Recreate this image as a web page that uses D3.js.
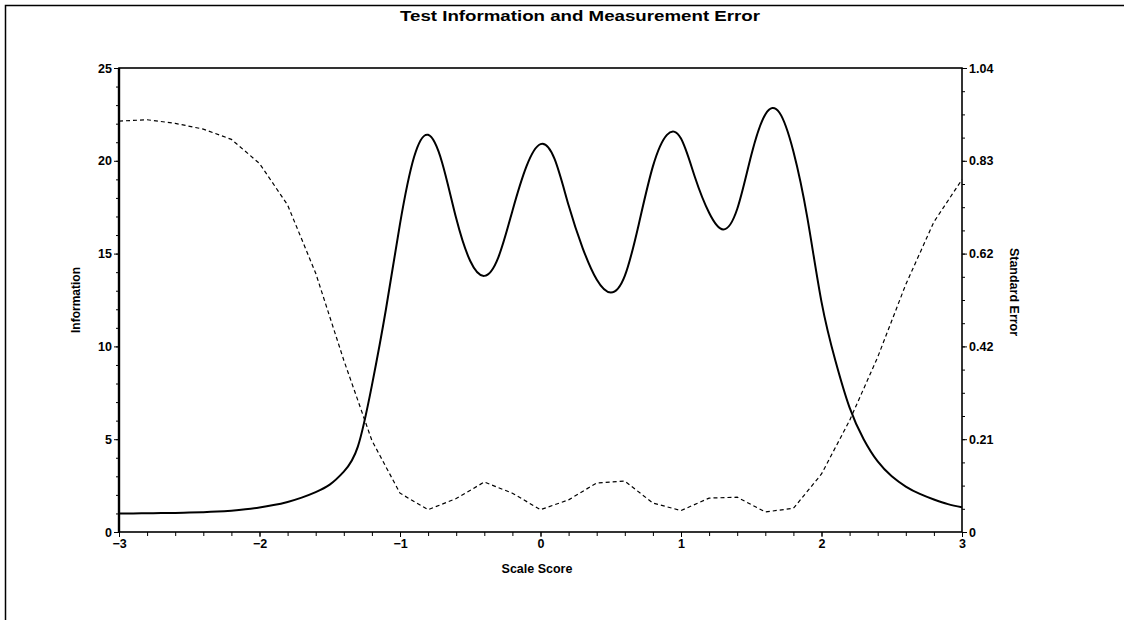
<!DOCTYPE html>
<html>
<head>
<meta charset="utf-8">
<script src="https://cdn.jsdelivr.net/npm/d3@7"></script>
<style>
body { margin: 0; background: #fff; }
svg text { font-family: "Liberation Sans", Arial, sans-serif; font-weight: bold; fill: #000; }
.axis path, .axis line { stroke: #000; }
</style>
</head>
<body>
<script>
//data
var infoScores = [-3.0, -2.9, -2.8, -2.7, -2.6, -2.5, -2.4, -2.3, -2.2, -2.1,
    -2.0, -1.9, -1.8, -1.7, -1.6, -1.5, -1.4, -1.3, -1.2, -1.1,
    -1.0, -0.9, -0.8, -0.7, -0.6, -0.5, -0.4, -0.3, -0.2, -0.1,
    0.0, 0.1, 0.2, 0.3, 0.4, 0.5, 0.6, 0.7, 0.8, 0.9,
    1.0, 1.1, 1.2, 1.3, 1.4, 1.5, 1.6, 1.7, 1.8, 1.9,
    2.0, 2.1, 2.2, 2.3, 2.4, 2.5, 2.6, 2.7, 2.8, 2.9, 3.0];
var information = [1.00, 1.00, 1.01, 1.02, 1.03, 1.05, 1.07, 1.10, 1.15, 1.22,
    1.32, 1.45, 1.62, 1.85, 2.15, 2.55, 3.25, 4.6, 7.9, 12.0,
    16.6, 20.2, 21.4, 19.9, 16.9, 14.6, 13.8, 14.8, 17.3, 19.7,
    20.9, 20.1, 17.6, 15.3, 13.6, 12.9, 13.8, 16.6, 19.7, 21.4,
    21.2, 19.1, 17.2, 16.3, 17.4, 20.3, 22.5, 22.6, 20.5, 16.9,
    12.4, 9.2, 6.7, 5.0, 3.8, 3.0, 2.45, 2.05, 1.75, 1.5, 1.33];

var seScores = [-3.0, -2.8, -2.6, -2.4, -2.2, -2.0, -1.8, -1.6, -1.4, -1.2,
    -1.0, -0.8, -0.6, -0.4, -0.2, 0.0, 0.2, 0.4, 0.6, 0.8,
    1.0, 1.2, 1.4, 1.6, 1.8, 2.0, 2.2, 2.4, 2.6, 2.8, 3.0];
var standardError = [0.921, 0.924, 0.916, 0.903, 0.880, 0.826, 0.733, 0.580, 0.385, 0.205,
    0.087, 0.050, 0.075, 0.112, 0.087, 0.050, 0.072, 0.110, 0.114, 0.065,
    0.048, 0.076, 0.078, 0.045, 0.053, 0.130, 0.250, 0.392, 0.555, 0.695, 0.790];

var xTicks = [-3, -2, -1, 0, 1, 2, 3];
var infoTicks = [0, 5, 10, 15, 20, 25];
var seTicks = [0, 0.208, 0.416, 0.624, 0.832, 1.04];
var titleText = "Test Information and Measurement Error";

(function(){

var width = 1124,
    height = 620;
var margin = {top: 68, right: 162, bottom: 88, left: 119};

var svg = d3.select("body")
    .append("svg")
    .attr("width", width)
    .attr("height", height);

//outer frame, only top and left edges show
svg.append("path")
    .attr("d", "M5.5," + height + "V5.5H" + width)
    .attr("fill", "none")
    .attr("stroke", "#000")
    .attr("stroke-width", 1.5);

//title is stretched a little, the scan's font is wider
svg.append("text")
    .attr("x", 580)
    .attr("y", 21)
    .attr("text-anchor", "middle")
    .attr("textLength", 360)
    .attr("lengthAdjust", "spacingAndGlyphs")
    .style("font-size", "15.5px")
    .text(titleText);

var x = d3.scaleLinear()
    .domain([-3, 3])
    .range([margin.left, width - margin.right]);
var yInfo = d3.scaleLinear()
    .domain([0, 25])
    .range([height - margin.bottom, margin.top]);
var ySE = d3.scaleLinear()
    .domain([0, 1.04])
    .range([height - margin.bottom, margin.top]);

var x0 = x.range()[0], x1 = x.range()[1],
    y0 = yInfo.range()[0], y1 = yInfo.range()[1];

function boldLabels(g){
    g.select(".domain").remove();
    g.selectAll("text").style("font-size", "12.5px");
}

//minor ticks first, then major ticks with labels
svg.append("g")
    .attr("class", "axis")
    .attr("transform", "translate(0," + y0 + ")")
    .call(d3.axisBottom(x).tickValues(d3.range(-3, 3.01, 0.2)).tickSize(4).tickFormat(""))
    .call(function(g){ g.select(".domain").remove(); });
svg.append("g")
    .attr("class", "axis")
    .attr("transform", "translate(0," + y0 + ")")
    .call(d3.axisBottom(x).tickValues(xTicks).tickSize(5).tickPadding(2).tickFormat(d3.format("d")))
    .call(boldLabels);

svg.append("g")
    .attr("class", "axis")
    .attr("transform", "translate(" + x0 + ",0)")
    .call(d3.axisLeft(yInfo).tickValues(d3.range(0, 25.5, 1)).tickSize(3).tickFormat(""))
    .call(function(g){ g.select(".domain").remove(); });
svg.append("g")
    .attr("class", "axis")
    .attr("transform", "translate(" + x0 + ",0)")
    .call(d3.axisLeft(yInfo).tickValues(infoTicks).tickSize(5).tickPadding(2))
    .call(boldLabels);

svg.append("g")
    .attr("class", "axis")
    .attr("transform", "translate(" + x1 + ",0)")
    .call(d3.axisRight(ySE).tickValues(d3.range(0, 1.05, 0.052)).tickSize(3).tickFormat(""))
    .call(function(g){ g.select(".domain").remove(); });
svg.append("g")
    .attr("class", "axis")
    .attr("transform", "translate(" + x1 + ",0)")
    .call(d3.axisRight(ySE).tickValues(seTicks).tickSize(5).tickPadding(2)
        .tickFormat(function(d){ return d === 0 ? "0" : d3.format(".2f")(d); }))
    .call(boldLabels);

//plot box
svg.append("rect")
    .attr("x", x0)
    .attr("y", y1)
    .attr("width", x1 - x0)
    .attr("height", y0 - y1)
    .attr("fill", "none")
    .attr("stroke", "#000")
    .attr("stroke-width", 1.6);
svg.append("line")
    .attr("x1", x0).attr("x2", x0)
    .attr("y1", y1).attr("y2", y0)
    .attr("stroke", "#000")
    .attr("stroke-width", 2.4);

//axis titles
svg.append("text")
    .attr("transform", "translate(80," + ((y0 + y1) / 2) + ") rotate(-90)")
    .attr("text-anchor", "middle")
    .style("font-size", "12px")
    .text("Information");
svg.append("text")
    .attr("transform", "translate(1010,292) rotate(90)")
    .attr("text-anchor", "middle")
    .style("font-size", "12.5px")
    .text("Standard Error");
svg.append("text")
    .attr("x", 537)
    .attr("y", 573)
    .attr("text-anchor", "middle")
    .style("font-size", "12.5px")
    .text("Scale Score");

//information curve (solid)
var infoLine = d3.line()
    .x(function(d, i){ return x(infoScores[i]); })
    .y(function(d){ return yInfo(d); })
    .curve(d3.curveNatural);
svg.append("path")
    .datum(information)
    .attr("d", infoLine)
    .attr("fill", "none")
    .attr("stroke", "#000")
    .attr("stroke-width", 2);

//standard error curve (dashed)
var seLine = d3.line()
    .x(function(d, i){ return x(seScores[i]); })
    .y(function(d){ return ySE(d); });
svg.append("path")
    .datum(standardError)
    .attr("d", seLine)
    .attr("fill", "none")
    .attr("stroke", "#000")
    .attr("stroke-width", 1.2)
    .attr("stroke-dasharray", "4,3");

})();
</script>
</body>
</html>
